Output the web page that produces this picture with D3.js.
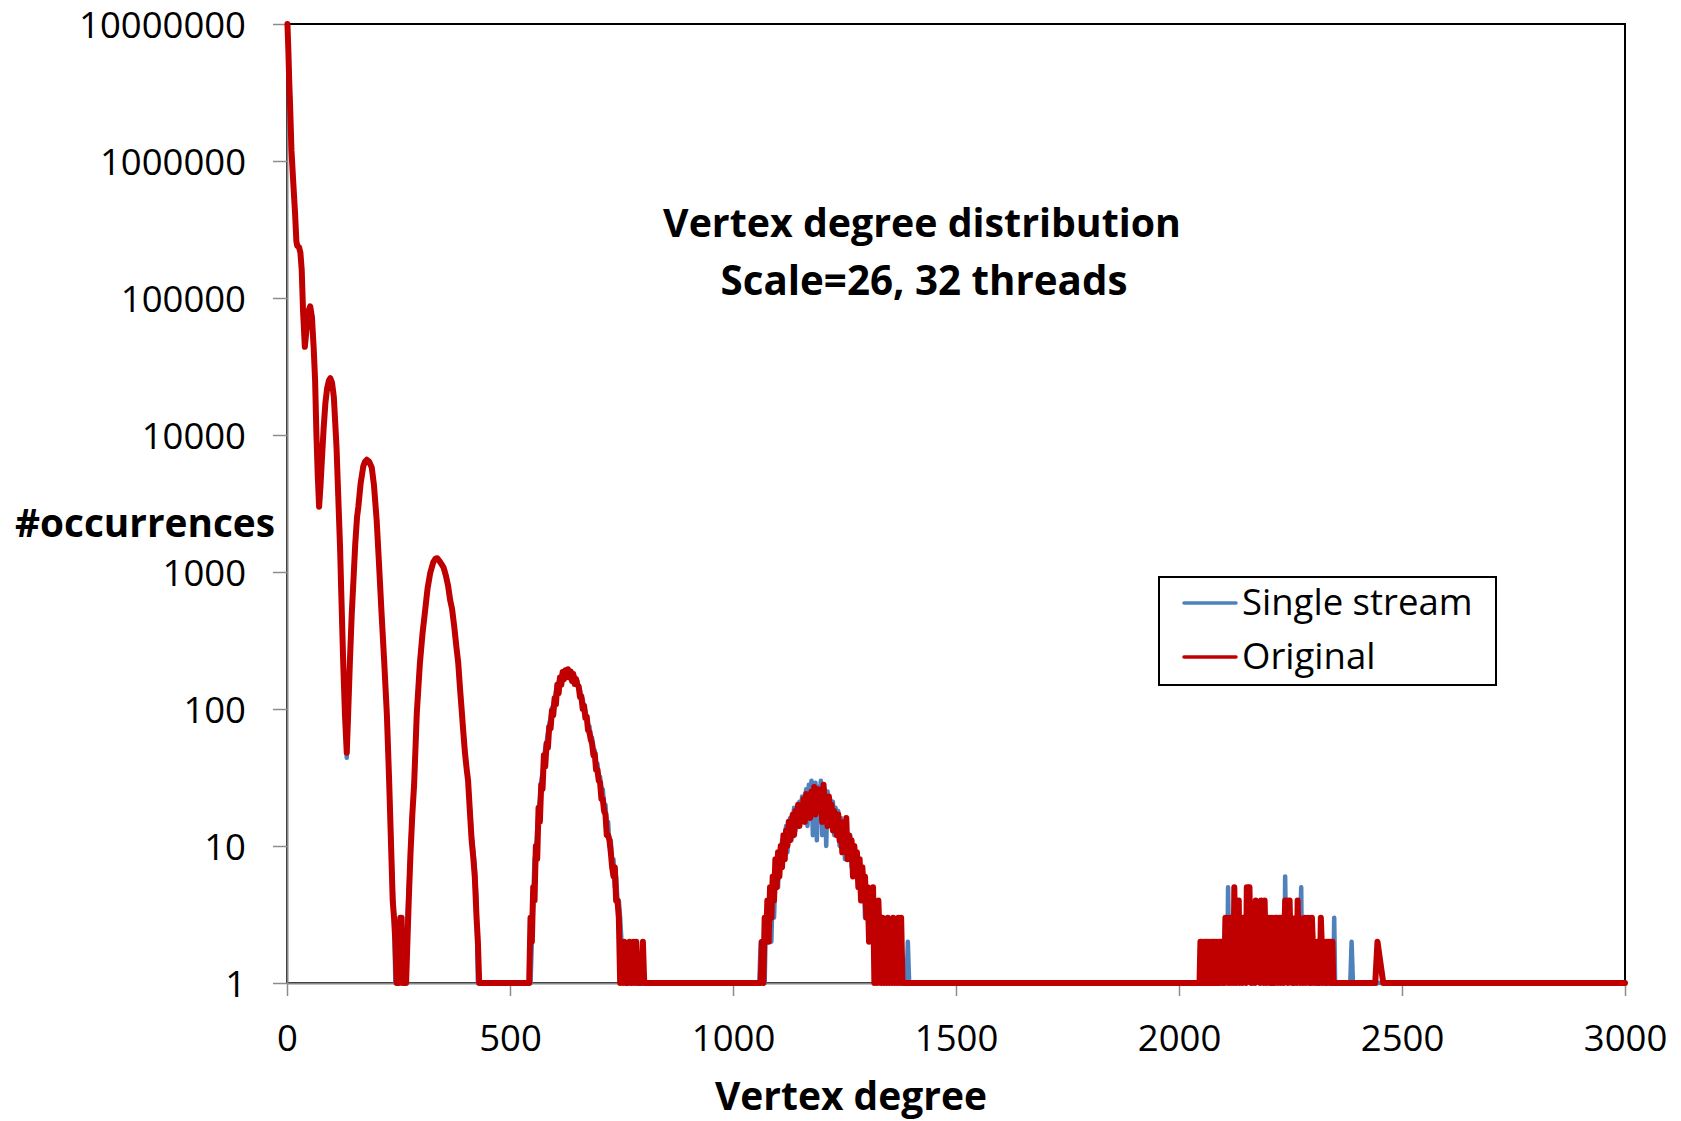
<!DOCTYPE html>
<html>
<head>
<meta charset="utf-8">
<script src="https://cdn.jsdelivr.net/npm/d3@7"></script>
<style>
  body { margin: 0; background: #fff; }
  text { font-family: "Open Sans", sans-serif; fill: #000; }
</style>
</head>
<body>
<div id="chart"></div>
<script>

// smooth head of the distribution, [degree, occurrences]
var headOriginal = [[1,10000000],[3,6500000],[5,3800000],[7,2500000],[10,1200000],[14,700000],[18,420000],[21,260000],
  [23,240000],[27,235000],[30,215000],[33,160000],[36,80000],[40,44000],[44,60000],[48,80000],[52,87000],[56,72000],
  [60,42000],[63,25000],[66,10000],[69,5000],[72,3000],[75,4200],[78,6400],[82,11000],[86,17000],[90,22000],[94,25000],
  [97,26000],[101,24000],[105,19000],[108,12500],[111,8200],[115,3500],[119,1500],[122,650],[126,220],[130,90],[134,48],
  [137,90],[141,220],[145,480],[149,870],[153,1600],[157,2500],[160,3000],[165,4400],[171,5900],[175,6400],[179,6600],
  [184,6400],[190,5800],[195,4300],[201,2400],[206,1200],[212,500],[218,220],[224,90],[229,30],[233,11],[237,4],[240,3],
  [243,2],[246,1],[251,1],[254,3],[257,3],[260,1],[267,1],[270,2],[273,4],[277,9],[281,17],[285,28],[291,93],[298,216],
  [304,360],[309,500],[315,750],[321,980],[328,1180],[333,1250],[337,1260],[342,1200],[346,1150],[351,1080],[356,950],
  [361,800],[366,620],[370,540],[375,400],[380,280],[384,216],[388,140],[392,95],[395,70],[399,48],[403,36],[406,30],
  [410,18],[414,11],[418,8],[421,6],[425,3],[428,2],[431,1]];

var headSingle = [[1,10000000],[3,6500000],[5,3800000],[7,2500000],[10,1200000],[14,700000],[18,420000],[21,260000],
  [23,240000],[27,235000],[30,215000],[33,160000],[36,80000],[40,44000],[44,60000],[48,80000],[52,87000],[56,72000],
  [60,42000],[63,25000],[66,10000],[69,5000],[72,3000],[75,4200],[78,6400],[82,11000],[86,17000],[90,22000],[94,25000],
  [97,26000],[101,24000],[105,19000],[108,12500],[111,8200],[115,3500],[119,1500],[122,650],[126,220],[130,88],[134,44],
  [137,88],[141,220],[145,480],[149,870],[153,1600],[157,2500],[160,3000],[165,4400],[171,5900],[175,6400],[179,6600],
  [184,6400],[190,5800],[195,4300],[201,2400],[206,1200],[212,500],[218,220],[224,90],[229,30],[233,12],[237,5],[240,3],
  [243,1],[246,1],[251,1],[254,2],[257,3],[260,1],[267,1],[270,3],[273,5],[277,10],[281,18],[285,28],[291,93],[298,216],
  [304,360],[309,500],[315,750],[321,980],[328,1180],[333,1250],[337,1260],[342,1200],[346,1150],[351,1080],[356,950],
  [361,800],[366,620],[370,540],[375,400],[380,280],[384,216],[388,140],[392,95],[395,72],[399,50],[403,36],[406,30],
  [410,19],[414,12],[418,9],[421,7],[425,4],[428,1],[431,1]];

// noisy bumps, one value per degree step
var bumpStarts = [540, 1056, 2040];
var bumpSteps = [3, 3, 2];

var originalBump3 = [1,1,3,2,5,4,10,8,19,15,28,26,46,38,56,52,74,72,97,90,120,108,150,130,170,150,186,165,192,172,
  195,170,188,160,180,152,166,150,146,122,124,100,106,86,88,70,68,60,56,46,47,36,36,30,29,22,22,18,17,12,12,11,9,7,6,7,
  4,4,3,1,2,1,2,1,1,1,2,1,1,2,1,2,1,1,1,1,2,1];
var singleBump3 = [1,1,1,2,4,8,9,13,18,22,30,34,42,52,57,67,78,85,102,106,118,135,138,158,160,176,172,184,180,192,
  186,191,180,185,170,172,158,160,140,138,118,118,100,98,84,76,75,62,62,51,50,40,40,32,32,25,26,20,20,14,15,10,11,7,8,5,
  6,4,4,3,2,1,1,2,1,1,1,2,1,1,1,1,1,1,1,1,1,1];

var originalBump4 = [1,1,1,2,1,3,2,4,2,5, 3,6,4,8,5,9,6,10,7,12, 8,13,10,15,11,14,17,12,18,15, 20,14,19,16,22,15,24,18,21,16,
  25,19,27,17,22,26,18,24,15,28, 19,21,14,23,17,20,13,18,15,12, 17,11,15,9,13,10,16,8,12,9, 11,6,10,7,9,5,8,4,7,5,
  6,3,5,2,4,3,5,1,3,1, 4,2,1,3,1,2,1,3,1,2, 1,3,1,2,1,3,1,3,1,1, 1,1,1,1];
var singleBump4 = [1,1,2,1,2,1,3,2,3,4, 2,5,3,6,7,5,9,7,11,8, 10,14,9,13,16,11,15,19,13,17, 14,21,16,23,17,20,26,14,28,19,
  30,12,24,29,11,27,20,30,12,22, 26,10,25,18,22,16,21,12,19,14, 18,10,16,12,14,8,13,11,9,12, 7,10,8,9,6,8,5,7,4,6,
  3,5,4,3,2,4,2,3,1,2, 3,1,2,1,3,1,2,1,1,2, 1,3,1,1,3,1,2,1,1,1, 1,1,2,1];

var originalBump5 = [1,1,1,1,2,1,2,1,1,2, 1,2,1,2,1,1,2,1,2,1, 2,1,2,1,1,2,1,2,2,1, 2,1,3,3,2,1,2,3,1,2,
  2,1,5,2,1,3,2,4,1,2, 2,1,3,2,2,1,5,2,3,5, 2,1,3,2,3,1,4,2,3,2, 3,1,4,2,3,1,4,2,1,3,
  2,3,1,2,3,1,2,1,3,2, 3,1,2,3,1,3,2,1,2,4, 2,4,1,3,4,2,3,1,2,1, 2,3,1,4,2,3,1,2,2,1,
  2,3,1,2,2,3,1,2,1,3, 2,1,2,2,1,2,1,2,1,3, 2,1,2,2,1,2,1,2,2,1, 2,1,2,1,1,1,1,1,1,1, 1];
var singleBump5 = [1,1,1,1,1,2,1,2,1,2, 1,2,1,1,2,1,2,1,2,1, 1,2,1,2,2,1,2,1,2,2, 1,2,3,2,1,5,2,1,2,2,
  1,2,3,1,2,2,1,3,2,1, 2,2,1,2,3,2,1,2,3,2, 1,2,3,2,1,3,2,1,2,3, 2,1,3,2,2,1,3,2,1,2,
  3,2,1,2,2,1,3,2,1,2, 2,1,3,2,1,2,2,3,1,6, 2,1,3,2,1,2,3,2,1,2, 1,3,2,1,2,2,3,5,1,2,
  2,1,3,2,1,2,2,1,2,3, 1,2,1,2,2,1,2,1,1,3, 1,2,1,1,2,1,2,1,1,2, 1,1,1,1,3,1,1,1,1,1, 1];

var tailOriginal = [[2440,1],[2445,2],[2458,1],[3000,1]];
var tailSingle = [[2384,1],[2387,2],[2390,1],[3000,1]];

var xTicks = [0, 500, 1000, 1500, 2000, 2500, 3000];
var yTicks = [1, 10, 100, 1000, 10000, 100000, 1000000, 10000000];
var seriesNames = ["Single stream", "Original"];
var seriesColors = ["#4F81BD", "#C00000"];

function buildSeries(head, bumps, tail) {
  var pts = head.slice();
  bumps.forEach(function(vals, b) {
    vals.forEach(function(v, i) { pts.push([bumpStarts[b] + i * bumpSteps[b], v]); });
  });
  return pts.concat(tail);
}

var singleData = buildSeries(headSingle, [singleBump3, singleBump4, singleBump5], tailSingle);
var originalData = buildSeries(headOriginal, [originalBump3, originalBump4, originalBump5], tailOriginal);

var svgWidth = 1681;
var svgHeight = 1121;
var margin = {top: 24, right: 56, bottom: 138, left: 287};
var width = svgWidth - margin.left - margin.right;
var height = svgHeight - margin.top - margin.bottom;

var svg = d3.select("#chart")
  .append("svg")
  .attr("width", svgWidth)
  .attr("height", svgHeight);

var chartGroup = svg.append("g")
  .attr("transform", `translate(${margin.left}, ${margin.top})`);

var xScale = d3.scaleLinear().domain([0, 3000]).range([0, width]);
var yScale = d3.scaleLog().domain([1, 10000000]).range([height, 0]);

// plot area border
chartGroup.append("rect")
  .attr("width", width)
  .attr("height", height)
  .attr("fill", "none")
  .attr("stroke", "#000")
  .attr("stroke-width", 2);

var xAxis = chartGroup.append("g")
  .attr("transform", `translate(0, ${height})`)
  .call(d3.axisBottom(xScale).tickValues(xTicks).tickFormat(d3.format("d")).tickSize(13).tickSizeOuter(0));

var yAxis = chartGroup.append("g")
  .call(d3.axisLeft(yScale).tickValues(yTicks).tickFormat(d3.format("d")).tickSize(14).tickSizeOuter(0).tickPadding(27));

[xAxis, yAxis].forEach(function(ax) {
  ax.select(".domain").attr("stroke", "#868686").attr("stroke-width", 2);
  ax.selectAll(".tick line").attr("stroke", "#8c8c8c").attr("stroke-width", 1.5);
  ax.selectAll("text")
    .style("font-family", "'Open Sans', sans-serif")
    .style("font-size", "36.5px")
    .attr("fill", "#000");
});

xAxis.selectAll("text").attr("dy", null).attr("y", 68);
yAxis.selectAll("text").attr("dy", "0.36em");

var line = d3.line()
  .x(d => xScale(d[0]))
  .y(d => yScale(d[1]));

chartGroup.append("path")
  .datum(singleData)
  .attr("d", line)
  .attr("fill", "none")
  .attr("stroke", seriesColors[0])
  .attr("stroke-width", 4.5)
  .attr("stroke-linejoin", "round")
  .attr("stroke-linecap", "round");

chartGroup.append("path")
  .datum(originalData)
  .attr("d", line)
  .attr("fill", "none")
  .attr("stroke", seriesColors[1])
  .attr("stroke-width", 6)
  .attr("stroke-linejoin", "round")
  .attr("stroke-linecap", "round");

function fitWidth(sel, target) {
  var w = sel.node().getComputedTextLength();
  var fs = parseFloat(sel.style("font-size"));
  sel.style("font-size", (fs * target / w) + "px");
}

// titles
var title1 = svg.append("text")
  .attr("x", 922).attr("y", 237)
  .attr("text-anchor", "middle")
  .style("font-weight", 700).style("font-size", "44px")
  .text("Vertex degree distribution");
fitWidth(title1, 518);

var title2 = svg.append("text")
  .attr("x", 924).attr("y", 295)
  .attr("text-anchor", "middle")
  .style("font-weight", 700).style("font-size", "44px")
  .text("Scale=26, 32 threads");
fitWidth(title2, 407);

var xLabel = svg.append("text")
  .attr("x", 851).attr("y", 1110)
  .attr("text-anchor", "middle")
  .style("font-weight", 700).style("font-size", "44px")
  .text("Vertex degree");
fitWidth(xLabel, 272);

var yLabel = svg.append("text")
  .attr("x", 145).attr("y", 537)
  .attr("text-anchor", "middle")
  .style("font-weight", 700).style("font-size", "44px")
  .text("#occurrences");
fitWidth(yLabel, 260);

// legend
var legend = svg.append("g");
legend.append("rect")
  .attr("x", 1159).attr("y", 577)
  .attr("width", 337).attr("height", 108)
  .attr("fill", "#fff")
  .attr("stroke", "#000")
  .attr("stroke-width", 2);

seriesNames.forEach(function(name, i) {
  var ly = 603 + i * 54;
  legend.append("line")
    .attr("x1", 1184).attr("x2", 1236)
    .attr("y1", ly).attr("y2", ly)
    .attr("stroke", seriesColors[i])
    .attr("stroke-width", 3.5)
    .attr("stroke-linecap", "round");
  legend.append("text")
    .attr("x", 1242).attr("y", ly + 12)
    .style("font-size", "36.5px")
    .text(name);
});

</script>
</body>
</html>
